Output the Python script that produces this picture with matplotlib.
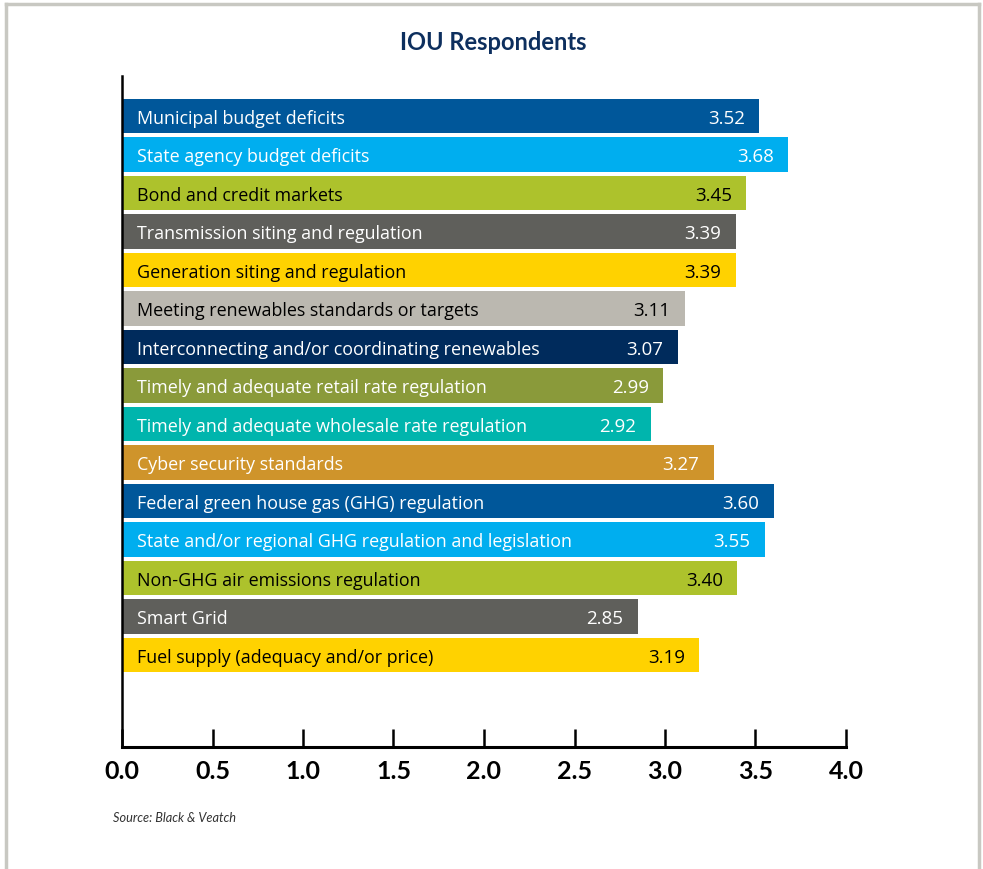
import matplotlib.pyplot as plt
from matplotlib.lines import Line2D

plt.rcParams['font.family'] = ['Lato', 'DejaVu Sans']

categorias = [
    "Municipal budget deficits",
    "State agency budget deficits",
    "Bond and credit markets",
    "Transmission siting and regulation",
    "Generation siting and regulation",
    "Meeting renewables standards or targets",
    "Interconnecting and/or coordinating renewables",
    "Timely and adequate retail rate regulation",
    "Timely and adequate wholesale rate regulation",
    "Cyber security standards",
    "Federal green house gas (GHG) regulation",
    "State and/or regional GHG regulation and legislation",
    "Non-GHG air emissions regulation",
    "Smart Grid",
    "Fuel supply (adequacy and/or price)",
]
valores = [3.52, 3.68, 3.45, 3.39, 3.39, 3.11, 3.07, 2.99, 2.92, 3.27,
           3.60, 3.55, 3.40, 2.85, 3.19]
colores = ["#00579a", "#00aeef", "#adc22c", "#5f5f5b", "#ffd200",
           "#bbb8b0", "#002b5c", "#8a9a3a", "#00b5ad", "#cf942b",
           "#00579a", "#00aeef", "#adc22c", "#5f5f5b", "#ffd200"]
colores_texto = ["white", "white", "black", "white", "black",
                 "black", "white", "white", "white", "white",
                 "white", "white", "black", "white", "black"]
ticks = [0.0, 0.5, 1.0, 1.5, 2.0, 2.5, 3.0, 3.5, 4.0]

W, H = 983, 870
fig = plt.figure(figsize=(W / 100, H / 100), dpi=100)
ax = fig.add_axes([122 / W, 1 - 748 / H, (846 - 122) / W, (748 - 77) / H])

posiciones = list(range(len(categorias)))
ax.barh(posiciones, valores, height=0.9, color=colores, zorder=2)

# Etiquetas dentro de las barras
for i, (cat, val, ct) in enumerate(zip(categorias, valores, colores_texto)):
    ax.text(0.085, i + 0.04, cat, color=ct, fontsize=12.9, va='center', ha='left',
            family=['Open Sans', 'DejaVu Sans'], zorder=3)
    ax.text(val - 0.08, i + 0.04, f"{val:.2f}", color=ct, fontsize=13.5,
            va='center', ha='right', family=['Open Sans', 'DejaVu Sans'], zorder=3)

ax.set_xlim(0, 4.0)
ax.set_ylim(16.39, -1.04)
ax.set_xticks(ticks)
ax.set_xticklabels([f"{t:.1f}" for t in ticks], fontsize=18, fontweight='bold')
ax.set_yticks([])
ax.tick_params(axis='x', direction='in', length=13, width=1.8, pad=9, color='black')
for lado in ['top', 'right']:
    ax.spines[lado].set_visible(False)
ax.spines['left'].set_linewidth(1.8)
ax.spines['bottom'].set_linewidth(2.2)

# Titulo y fuente
fig.text(493 / W, 1 - 42 / H, "IOU Respondents", ha='center', va='center',
         fontsize=17, fontweight='bold', color='#0d2f5e')
fig.text(113 / W, 1 - 818 / H, "Source: Black & Veatch", ha='left', va='center',
         fontsize=9.2, style='italic', color='#333333')

# Marco gris
gris = '#c8c8c2'
fig.add_artist(Line2D([6 / W, 6 / W], [0, 1 - 5 / H], color=gris, lw=2.5))
fig.add_artist(Line2D([979 / W, 979 / W], [0, 1 - 5 / H], color=gris, lw=2.5))
fig.add_artist(Line2D([6 / W, 979 / W], [1 - 5 / H, 1 - 5 / H], color=gris, lw=2.5))

plt.savefig('out.png', dpi=100)
